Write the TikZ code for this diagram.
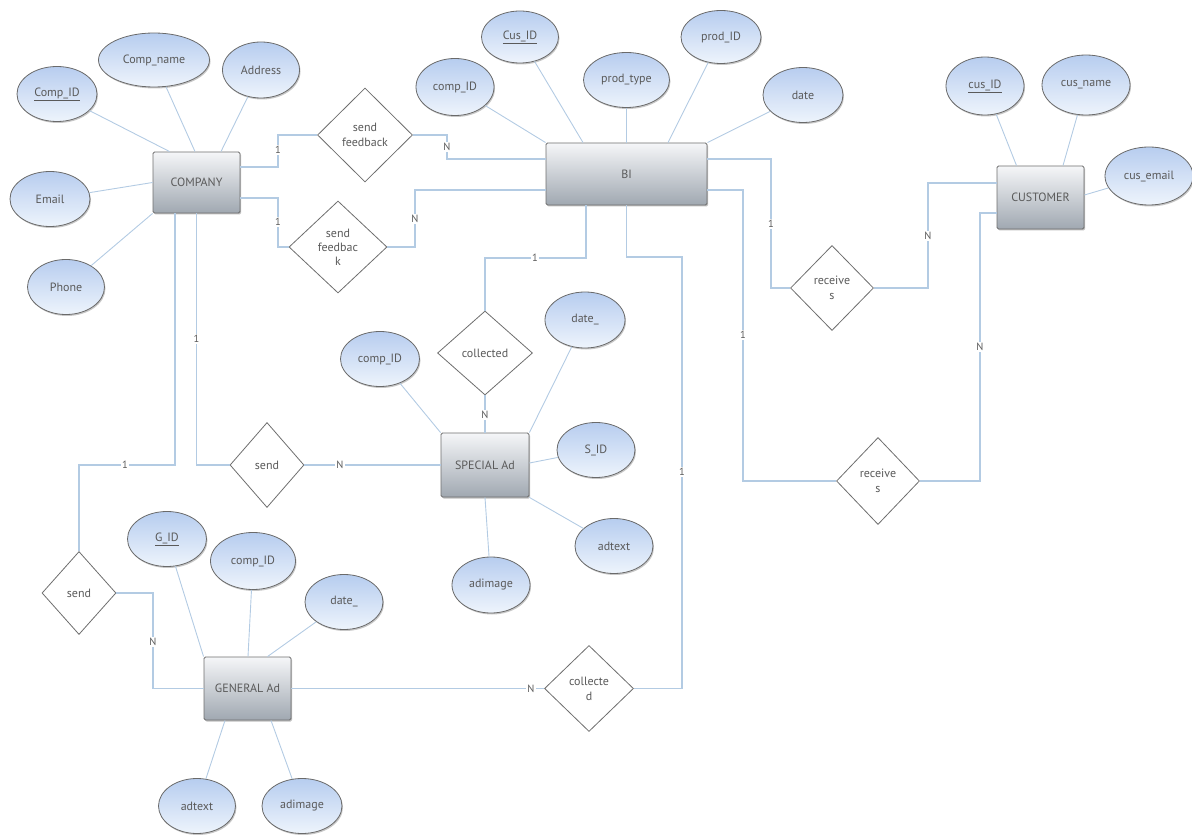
\documentclass[tikz,border=0pt]{standalone}
\usepackage{fontspec}
\setmainfont{PT Sans}
\usetikzlibrary{shapes.geometric,shadows}

\definecolor{txt}{HTML}{5A5A5A}
\definecolor{entborder}{HTML}{6E6E6E}
\definecolor{enttop}{HTML}{F5F6F8}
\definecolor{entbot}{HTML}{A0A8B1}
\definecolor{attrborder}{HTML}{6A6A6A}
\definecolor{attrtop}{HTML}{B7CDEF}
\definecolor{attrbot}{HTML}{EEF4FC}
\definecolor{relborder}{HTML}{6E6E6E}
\definecolor{connc}{HTML}{B3CBE3}

\tikzset{
  txtfont/.style={font=\fontsize{12}{15}\selectfont},
  entity/.style={rectangle, rounded corners=1.5pt, draw=entborder, line width=0.9pt,
    top color=enttop, bottom color=entbot, text=txt, txtfont,
    drop shadow={shadow xshift=1.2pt, shadow yshift=-1.5pt, fill=black, opacity=0.25}},
  attr/.style={ellipse, draw=attrborder, line width=0.8pt, inner sep=1pt,
    top color=attrtop, bottom color=attrbot, text=txt, txtfont,
    drop shadow={shadow xshift=1pt, shadow yshift=-1.5pt, fill=black, opacity=0.22}},
  rel/.style={diamond, draw=relborder, fill=white, line width=0.8pt, inner sep=0pt,
    text=txt, align=center, txtfont},
  conn/.style={draw=connc, line width=1.1pt},
  attrline/.style={draw=connc, line width=0.9pt},
  card/.style={fill=white, inner sep=1.2pt, text=txt, font=\fontsize{10.5}{12}\selectfont},
}

\begin{document}
\begin{tikzpicture}[x=1pt,y=-1pt]
\useasboundingbox (0,0) rectangle (1192,837);

% entities
\node[entity, minimum width=87pt, minimum height=61pt] (company) at (196.5,182.5) {COMPANY};
\node[entity, minimum width=161pt, minimum height=62pt] (bi) at (626.5,174) {BI};
\node[entity, minimum width=87pt, minimum height=63pt] (customer) at (1040.5,197.5) {CUSTOMER};
\node[entity, minimum width=88pt, minimum height=64pt] (special) at (485,465) {SPECIAL Ad};
\node[entity, minimum width=87pt, minimum height=63pt] (general) at (247.5,688.5) {GENERAL Ad};

% attributes of COMPANY
\node[attr, minimum width=80pt, minimum height=55pt] (compid) at (57,94) {\underline{Comp\_ID}};
\node[attr, minimum width=111pt, minimum height=54pt] (compname) at (154,60) {Comp\_name};
\node[attr, minimum width=77pt, minimum height=56pt] (address) at (261,70) {Address};
\node[attr, minimum width=80pt, minimum height=55pt] (email) at (50,199) {Email};
\node[attr, minimum width=77pt, minimum height=55pt] (phone) at (66,287) {Phone};

% attributes of BI
\node[attr, minimum width=78pt, minimum height=57pt] (bicomp) at (455,87) {comp\_ID};
\node[attr, minimum width=77pt, minimum height=52pt] (bicus) at (520,37) {\underline{Cus\_ID}};
\node[attr, minimum width=86pt, minimum height=55pt] (prodtype) at (626.5,80) {prod\_type};
\node[attr, minimum width=80pt, minimum height=53pt] (prodid) at (721,37) {prod\_ID};
\node[attr, minimum width=80pt, minimum height=55pt] (bidate) at (803,95) {date};

% attributes of CUSTOMER
\node[attr, minimum width=78pt, minimum height=58pt] (cusid) at (985,86) {\underline{cus\_ID}};
\node[attr, minimum width=88pt, minimum height=60pt] (cusname) at (1086,85) {cus\_name};
\node[attr, minimum width=88pt, minimum height=58pt] (cusemail) at (1149,176) {cus\_email};

% attributes of SPECIAL Ad
\node[attr, minimum width=79pt, minimum height=55pt] (spcomp) at (380,359) {comp\_ID};
\node[attr, minimum width=80pt, minimum height=56pt] (spdate) at (585,320) {date\_};
\node[attr, minimum width=78pt, minimum height=55pt] (spsid) at (596,450) {S\_ID};
\node[attr, minimum width=78pt, minimum height=55pt] (sptext) at (614,546) {adtext};
\node[attr, minimum width=78pt, minimum height=56pt] (spimg) at (491,585) {adimage};

% attributes of GENERAL Ad
\node[attr, minimum width=79pt, minimum height=55pt] (gid) at (167,539) {\underline{G\_ID}};
\node[attr, minimum width=85pt, minimum height=57pt] (gcomp) at (253,561) {comp\_ID};
\node[attr, minimum width=78pt, minimum height=55pt] (gdate) at (344,602) {date\_};
\node[attr, minimum width=77pt, minimum height=55pt] (gtext) at (197,806) {adtext};
\node[attr, minimum width=80pt, minimum height=55pt] (gimg) at (302,806) {adimage};

% relationships
\node[rel, minimum width=95pt, minimum height=94pt] (sfa) at (365,135) {send\\feedback};
\node[rel, minimum width=98pt, minimum height=92pt, font=\fontsize{12}{14}\selectfont] (sfb) at (338,247) {send\\feedbac\\k};
\node[rel, minimum width=83pt, minimum height=85pt] (rca) at (832,288) {receive\\s};
\node[rel, minimum width=83pt, minimum height=87pt] (rcb) at (878,481) {receive\\s};
\node[rel, minimum width=95pt, minimum height=84pt] (cola) at (485,353) {collected};
\node[rel, minimum width=74pt, minimum height=85pt] (sendm) at (267,465) {send};
\node[rel, minimum width=74pt, minimum height=83pt] (sendg) at (79,593) {send};
\node[rel, minimum width=89pt, minimum height=86pt] (colb) at (589,688.5) {collecte\\d};

% attribute links
\draw[attrline] (compid) -- ([xshift=17pt]company.north west);
\draw[attrline] (compname) -- ([xshift=-1.5pt]company.north);
\draw[attrline] (address) -- ([xshift=24.5pt]company.north);
\draw[attrline] (email) -- (company.west);
\draw[attrline] (phone) -- (company.south west);

\draw[attrline] (bicomp) -- (bi.north west);
\draw[attrline] (bicus) -- ([xshift=-43.5pt]bi.north);
\draw[attrline] (prodtype) -- (bi.north);
\draw[attrline] (prodid) -- ([xshift=41.5pt]bi.north);
\draw[attrline] (bidate) -- (bi.north east);

\draw[attrline] (cusid) -- ([xshift=-24pt]customer.north);
\draw[attrline] (cusname) -- ([xshift=22.5pt]customer.north);
\draw[attrline] (cusemail) -- ([yshift=2.5pt]customer.east);

\draw[attrline] (spcomp) -- (special.north west);
\draw[attrline] (spdate) -- (special.north east);
\draw[attrline] (spsid) -- ([yshift=2pt]special.east);
\draw[attrline] (sptext) -- (special.south east);
\draw[attrline] (spimg) -- (special.south);

\draw[attrline] (gid) -- (general.north west);
\draw[attrline] (gcomp) -- ([xshift=0.5pt]general.north);
\draw[attrline] (gdate) -- ([xshift=20pt]general.north);
\draw[attrline] (gtext) -- ([xshift=-22.5pt]general.south);
\draw[attrline] (gimg) -- ([xshift=23.5pt]general.south);

% relationship connectors
\draw[conn] ([yshift=15.5pt]company.east) -- (278,167) |- (sfa.west);
\draw[conn] (sfa.east) -- (447,135) |- ([yshift=15pt]bi.west);
\draw[conn] ([yshift=-15.5pt]company.east) -- (278,198) |- (sfb.west);
\draw[conn] (sfb.east) -- (415,247) |- ([yshift=-16pt]bi.west);
\draw[conn] ([xshift=-40.5pt]bi.south) -- (586,258) -| (cola.north);
\draw[conn] (cola.south) -- (special.north);
\draw[conn] (bi.south) -- (626.5,257) -- (682,257) |- (colb.east);
\draw[conn] (general.east) -- (colb.west);
\draw[conn] ([yshift=15pt]bi.east) -- (771,159) |- (rca.west);
\draw[conn] (rca.east) -- (928,288) |- ([yshift=14.5pt]customer.west);
\draw[conn] ([yshift=-16pt]bi.east) -- (743,190) |- (rcb.west);
\draw[conn] (rcb.east) -- (980,481) |- ([yshift=-15.5pt]customer.west);
\draw[conn] (company.south) |- (sendm.west);
\draw[conn] (sendm.east) -- (special.west);
\draw[conn] ([xshift=-21.5pt]company.south) -- (175,465) -| (sendg.north);
\draw[conn] (sendg.east) -- (153,593) |- (general.west);

% cardinalities
\node[card] (k1) at (278,150) {1};
\node[card] (k2) at (447,147) {N};
\node[card] (k3) at (278,222) {1};
\node[card] (k4) at (415,219) {N};
\node[card] (k5) at (535,258) {1};
\node[card] (k6) at (485,415) {N};
\node[card] (k7) at (682,472) {1};
\node[card] (k8) at (531,688.5) {N};
\node[card] (k9) at (771,224) {1};
\node[card] (k10) at (928,236) {N};
\node[card] (k11) at (743,335) {1};
\node[card] (k12) at (980,347) {N};
\node[card] (k13) at (196.5,339) {1};
\node[card] (k14) at (340,465) {N};
\node[card] (k15) at (125,465) {1};
\node[card] (k16) at (153,642) {N};
\end{tikzpicture}
\end{document}
